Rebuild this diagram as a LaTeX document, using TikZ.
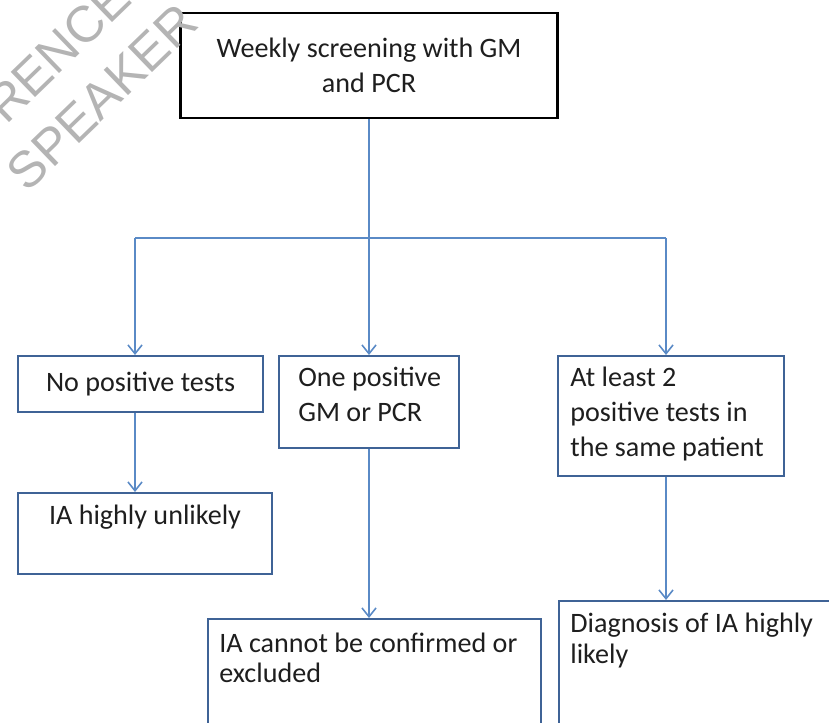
\documentclass[tikz,border=0pt]{standalone}
\usepackage{fontspec}
\setmainfont{Carlito}
\newfontfamily\stampfont{Liberation Sans}
\usetikzlibrary{arrows.meta,positioning}
\definecolor{boxblue}{HTML}{3F6396}
\definecolor{linkblue}{HTML}{5A8AC6}
\definecolor{stampgray}{HTML}{B4B4B4}
\definecolor{inkgray}{HTML}{1E1E1E}

\begin{document}
\begin{tikzpicture}[
    x=0.02cm, y=-0.02cm,
    every node/.style={font=\fontsize{16}{19.8}\selectfont, text=inkgray},
    topbox/.style={draw=black, line width=1.4pt, align=center, minimum width=7.54cm, minimum height=2.1cm, inner sep=0pt},
    box/.style={draw=boxblue, line width=1.2pt, inner sep=0pt, anchor=north west},
    txt/.style={inner sep=0pt, align=left},
    link/.style={draw=linkblue, line width=0.9pt},
    arrow/.style={link, -{Straight Barb[length=5pt, width=8pt]}},
    stamp/.style={font=\stampfont\fontsize{29}{29}\selectfont, text=stampgray, rotate=44}
  ]
  \useasboundingbox (0,0) rectangle (829,723);

  \node[topbox] (screen) at (369,65.5) {Weekly screening with GM\\and PCR};

  \node[box, minimum width=4.9cm, minimum height=1.12cm] (nopos) at (17,355) {No positive tests};
  \node[box, minimum width=3.6cm, minimum height=1.84cm,
    label={[txt, anchor=north west, xshift=0.4cm, yshift=-0.24cm]north west:One positive\\GM or PCR}] (onepos) at (278,355) {};
  \node[box, minimum width=4.52cm, minimum height=2.4cm,
    label={[txt, anchor=north west, xshift=0.26cm, yshift=-0.24cm]north west:At least 2\\positive tests in\\the same patient}] (twopos) at (557,355) {};

  \node[box, minimum width=5.08cm, minimum height=1.62cm,
    label={[txt, anchor=north, yshift=-0.26cm]north:IA highly unlikely}] (unlikely) at (17,492) {};
  \node[box, minimum width=6.66cm, minimum height=2.9cm,
    label={[txt, font=\fontsize{16}{17}\selectfont, anchor=north west, xshift=0.24cm, yshift=-0.3cm]north west:IA cannot be confirmed or\\excluded}] (unclear) at (207,618) {};
  \node[box, minimum width=5.84cm, minimum height=3.2cm,
    label={[txt, font=\fontsize{16}{17.6}\selectfont, anchor=north west, xshift=0.24cm, yshift=-0.26cm]north west:Diagnosis of IA highly\\likely}] (likely) at (558,600) {};

  % split line under the screening box
  \coordinate (busL) at (135,238);
  \coordinate (busR) at (666,238);
  \draw[link] (busL) -- (busR);
  \draw[arrow] (screen.south) -- (screen.south |- onepos.north);
  \draw[arrow] (busL) -- (busL |- nopos.north);
  \draw[arrow] (busR) -- (busR |- twopos.north);

  % outcomes
  \draw[arrow] (busL |- nopos.south) -- (busL |- unlikely.north);
  \draw[arrow] (screen.south |- onepos.south) -- (screen.south |- unclear.north);
  \draw[arrow] (busR |- twopos.south) -- (busR |- likely.north);

  % stamp
  \node[stamp] (stampa) at (58,51) {RENCE};
  \node[stamp] (stampb) at (102,97) {SPEAKER};
\end{tikzpicture}
\end{document}
